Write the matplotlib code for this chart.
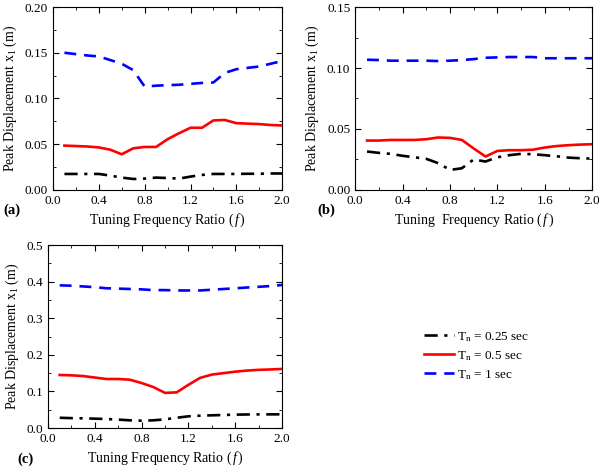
import matplotlib
matplotlib.use("Agg")
import matplotlib.pyplot as plt
from matplotlib.ticker import MultipleLocator

plt.rcParams['font.family'] = ['Liberation Serif', 'DejaVu Serif']
plt.rcParams['mathtext.fontset'] = 'custom'
plt.rcParams['mathtext.rm'] = 'Liberation Serif'
plt.rcParams['mathtext.it'] = 'Liberation Serif:italic'
plt.rcParams['font.size'] = 9.5

f = [0.1, 0.2, 0.3, 0.4, 0.5, 0.6, 0.7, 0.8, 0.9, 1.0,
     1.1, 1.2, 1.3, 1.4, 1.5, 1.6, 1.7, 1.8, 1.9, 2.0]

# panel (a)
a_025 = [0.0175, 0.0175, 0.0175, 0.0175, 0.0157, 0.0135, 0.012, 0.0124, 0.0135, 0.013,
         0.0124, 0.0146, 0.0164, 0.0175, 0.0175, 0.0175, 0.0177, 0.0177, 0.018, 0.018]
a_05 = [0.0485, 0.048, 0.0475, 0.0465, 0.044, 0.039, 0.0455, 0.047, 0.047, 0.0555,
        0.062, 0.068, 0.068, 0.076, 0.0765, 0.073, 0.0725, 0.072, 0.071, 0.0705]
a_1 = [0.150, 0.1485, 0.147, 0.146, 0.142, 0.138, 0.131, 0.113, 0.114, 0.1146,
       0.115, 0.116, 0.117, 0.1175, 0.128, 0.132, 0.1335, 0.135, 0.138, 0.141]

# panel (b)
b_025 = [0.0315, 0.0304, 0.0296, 0.028, 0.0268, 0.0255, 0.022, 0.0164, 0.0178, 0.025,
         0.0233, 0.0268, 0.0285, 0.0296, 0.0293, 0.0285, 0.0276, 0.0265, 0.026, 0.0257]
b_05 = [0.0405, 0.0405, 0.041, 0.041, 0.041, 0.0416, 0.043, 0.0427, 0.041, 0.034,
        0.0274, 0.032, 0.0326, 0.0326, 0.033, 0.0348, 0.036, 0.0367, 0.0372, 0.0375]
b_1 = [0.1068, 0.1065, 0.106, 0.106, 0.106, 0.106, 0.1057, 0.106, 0.1065, 0.1073,
       0.1084, 0.1087, 0.109, 0.109, 0.109, 0.108, 0.108, 0.108, 0.108, 0.108]

# panel (c)
c_025 = [0.028, 0.027, 0.0265, 0.0255, 0.0246, 0.023, 0.021, 0.020, 0.021, 0.0237,
         0.028, 0.032, 0.0337, 0.0347, 0.0356, 0.0365, 0.037, 0.0372, 0.0373, 0.0374]
c_05 = [0.145, 0.144, 0.142, 0.138, 0.134, 0.134, 0.132, 0.123, 0.112, 0.096,
        0.0975, 0.118, 0.137, 0.146, 0.150, 0.154, 0.157, 0.159, 0.160, 0.1615]
c_1 = [0.39, 0.389, 0.387, 0.385, 0.382, 0.381, 0.380, 0.379, 0.377, 0.377,
       0.376, 0.376, 0.376, 0.378, 0.380, 0.382, 0.384, 0.386, 0.388, 0.391]

labels = ['T$_\\mathregular{n}$ = 0.25 sec', 'T$_\\mathregular{n}$ = 0.5 sec', 'T$_\\mathregular{n}$ = 1 sec']

fig = plt.figure(figsize=(6, 4.69), dpi=100)
ax_a = fig.add_axes([0.0883, 0.595, 0.382, 0.390])
ax_b = fig.add_axes([0.592, 0.595, 0.395, 0.390])
ax_c = fig.add_axes([0.080, 0.0874, 0.390, 0.390])

# axes, data, y max, y major/minor step, tag, tag position (px), xlabel
panels = [
    (ax_a, a_025, a_05, a_1, 0.20, 0.05, 0.025, '(a)', (3, 210), 'Tuning Frequency Ratio ($\\,f\\,$)'),
    (ax_b, b_025, b_05, b_1, 0.15, 0.05, 0.025, '(b)', (317, 210), 'Tuning  Frequency Ratio ($\\,f\\,$)'),
    (ax_c, c_025, c_05, c_1, 0.5, 0.1, 0.05, '(c)', (17, 459), 'Tuning Frequency Ratio ($\\,f\\,$)'),
]

for ax, s025, s05, s1, ymax, ymaj, ymin, tag, pos, xl in panels:
    l1, = ax.plot(f, s025, color='black', lw=1.9, dashes=[5, 2.5, 1.2, 2.5])
    l2, = ax.plot(f, s05, color='red', lw=1.9)
    l3, = ax.plot(f, s1, color='blue', lw=1.9, dashes=[4.5, 3])
    ax.set_xlim(0, 2.0)
    ax.set_ylim(0, ymax)
    ax.xaxis.set_major_locator(MultipleLocator(0.4))
    ax.xaxis.set_minor_locator(MultipleLocator(0.2))
    ax.yaxis.set_major_locator(MultipleLocator(ymaj))
    ax.yaxis.set_minor_locator(MultipleLocator(ymin))
    ax.xaxis.set_major_formatter(plt.FormatStrFormatter('%.1f'))
    ax.yaxis.set_major_formatter(plt.FormatStrFormatter('%.2f' if ymax < 0.3 else '%.1f'))
    ax.tick_params(which='both', direction='in', top=True, right=True, labelsize=9.5)
    ax.tick_params(which='major', length=4)
    ax.tick_params(which='minor', length=2)
    ax.set_xlabel(xl, fontsize=10, labelpad=3.5)
    ax.set_ylabel('Peak Displacement x$_\\mathregular{1}$ (m)', fontsize=10, labelpad=4)
    fig.text(pos[0] / 600, 1 - pos[1] / 469, tag, fontsize=10.5, fontweight='bold',
             ha='left', va='center')

fig.legend([l1, l2, l3], labels, loc='upper left', bbox_to_anchor=(0.687, 0.322),
           frameon=False, fontsize=9.5, handlelength=2.3, handletextpad=0.2,
           labelspacing=0.4)

fig.savefig('out.png', dpi=100)
